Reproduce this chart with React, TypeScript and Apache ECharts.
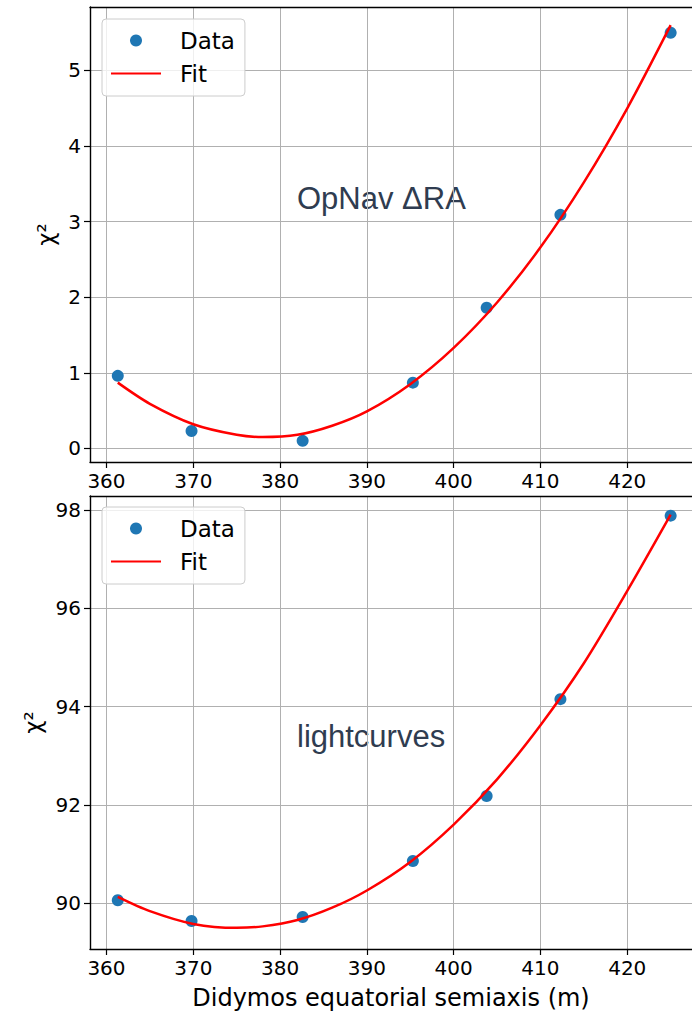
import React, { useEffect, useRef } from "react";
import * as echarts from "echarts";

// Data
const semiaxis = [361.3, 369.8, 382.6, 395.3, 403.8, 412.3, 425.0];
const opnavChi2 = [0.96, 0.23, 0.10, 0.87, 1.86, 3.09, 5.50];
const lightcurveChi2 = [90.06, 89.64, 89.72, 90.86, 92.18, 94.15, 97.88];

const fitSemiaxis = [361.3, 365, 370, 375, 378, 382, 386, 390, 395, 400, 405, 410, 415, 420, 425];
const opnavFit = [0.87, 0.59, 0.32, 0.18, 0.15, 0.18, 0.30, 0.49, 0.85, 1.33, 1.93, 2.66, 3.52, 4.50, 5.60];
const lightcurveFit = [90.13, 89.84, 89.58, 89.50, 89.53, 89.66, 89.91, 90.26, 90.84, 91.60, 92.52, 93.62, 94.88, 96.35, 97.90];

const xTicks = [360, 370, 380, 390, 400, 410, 420];
const opnavTicks = [0, 1, 2, 3, 4, 5];
const lightcurveTicks = [90, 92, 94, 96, 98];

const FONT = "DejaVu Sans";
const X_MIN = 358.1;
const X_MAX = 427.46;

function zip(xs: number[], ys: number[]) {
  return xs.map((x, i) => [x, ys[i]]);
}

export default function App() {
  const ref = useRef<HTMLDivElement>(null);

  useEffect(() => {
    if (!ref.current) return;
    const chart = echarts.init(ref.current, null, { renderer: "svg" });

    const spine = { show: true, lineStyle: { color: "#000", width: 1.4 } };

    const gridBase = { left: 90, right: 0, show: false };

    const xAxisBase = (withName: boolean) => ({
      type: "value",
      min: X_MIN,
      max: X_MAX,
      axisLine: { ...spine, onZero: false },
      axisTick: { show: true, length: 6, lineStyle: { color: "#000", width: 1.2 }, customValues: xTicks },
      axisLabel: { color: "#000", fontFamily: FONT, fontSize: 20, margin: 9, customValues: xTicks },
      splitLine: { show: true, lineStyle: { color: "#b0b0b0", width: 1 } },
      name: withName ? "Didymos equatorial semiaxis (m)" : "",
      nameLocation: "middle",
      nameGap: 37,
      nameTextStyle: { color: "#000", fontFamily: FONT, fontSize: 24 },
    });

    const topSpineAxis = (gridIndex: number) => ({
      type: "value",
      gridIndex,
      position: "top",
      min: X_MIN,
      max: X_MAX,
      axisLine: { ...spine, onZero: false },
      axisTick: { show: false },
      axisLabel: { show: false },
      splitLine: { show: false },
    });

    const yAxisBase = (min: number, max: number, ticks: number[], gap: number) => ({
      type: "value",
      min,
      max,
      axisLine: { ...spine, onZero: false },
      axisTick: { show: true, length: 6, lineStyle: { color: "#000", width: 1.2 }, customValues: ticks },
      axisLabel: { color: "#000", fontFamily: FONT, fontSize: 20, margin: 9, customValues: ticks },
      splitLine: { show: true, lineStyle: { color: "#b0b0b0", width: 1 } },
      name: "χ²",
      nameLocation: "middle",
      nameGap: gap,
      nameTextStyle: { color: "#000", fontFamily: FONT, fontSize: 23 },
    });

    const legendBase = {
      orient: "vertical",
      left: 102,
      data: ["Data", { name: "Fit", itemStyle: { opacity: 0, color: "rgba(0,0,0,0)", borderWidth: 0 } }],
      itemWidth: 50,
      itemHeight: 12,
      itemGap: 10,
      padding: [10, 10, 11, 8],
      backgroundColor: "rgba(255,255,255,0.8)",
      borderColor: "#cccccc",
      borderWidth: 1,
      borderRadius: 4,
      textStyle: { color: "#000", fontFamily: FONT, fontSize: 23, padding: [0, 0, 0, 14] },
      selectedMode: false,
    };

    const annotationStyle = {
      fill: "#2f3c50",
      fontFamily: "Liberation Sans",
      fontSize: 31,
    };

    const scatterStyle = { color: "#1f77b4", opacity: 1 };
    const fitLine = { color: "#ff0000", width: 2.5 };

    chart.setOption({
      animation: false,
      backgroundColor: "#fff",
      grid: [
        { ...gridBase, top: 7, height: 455 },
        { ...gridBase, top: 496, height: 453 },
      ],
      xAxis: [
        { ...xAxisBase(false), gridIndex: 0 },
        { ...xAxisBase(true), gridIndex: 1 },
        topSpineAxis(0),
        topSpineAxis(1),
      ],
      yAxis: [
        { ...yAxisBase(-0.18, 5.84, opnavTicks, 26), gridIndex: 0 },
        { ...yAxisBase(89.07, 98.28, lightcurveTicks, 44), gridIndex: 1 },
      ],
      legend: [
        { ...legendBase, top: 19 },
        { ...legendBase, top: 507 },
      ],
      graphic: [
        { type: "text", left: 297, top: 183, style: { ...annotationStyle, text: "OpNav ΔRA" } },
        { type: "text", left: 297, top: 721, style: { ...annotationStyle, text: "lightcurves" } },
      ],
      series: [
        {
          name: "Data",
          type: "scatter",
          xAxisIndex: 0,
          yAxisIndex: 0,
          data: zip(semiaxis, opnavChi2),
          symbolSize: 12,
          itemStyle: scatterStyle,
          z: 2,
        },
        {
          name: "Fit",
          type: "line",
          xAxisIndex: 0,
          yAxisIndex: 0,
          data: zip(fitSemiaxis, opnavFit),
          symbol: "none",
          smooth: 0.3,
          lineStyle: fitLine,
          itemStyle: { color: "#ff0000" },
          z: 3,
        },
        {
          name: "Data",
          type: "scatter",
          xAxisIndex: 1,
          yAxisIndex: 1,
          data: zip(semiaxis, lightcurveChi2),
          symbolSize: 12,
          itemStyle: scatterStyle,
          z: 2,
        },
        {
          name: "Fit",
          type: "line",
          xAxisIndex: 1,
          yAxisIndex: 1,
          data: zip(fitSemiaxis, lightcurveFit),
          symbol: "none",
          smooth: 0.3,
          lineStyle: fitLine,
          itemStyle: { color: "#ff0000" },
          z: 3,
        },
      ],
    });

    return () => chart.dispose();
  }, []);

  return (
    <div
      ref={ref}
      style={{ position: "fixed", left: 0, top: 0, width: 692, height: 1011, background: "#fff" }}
    />
  );
}
